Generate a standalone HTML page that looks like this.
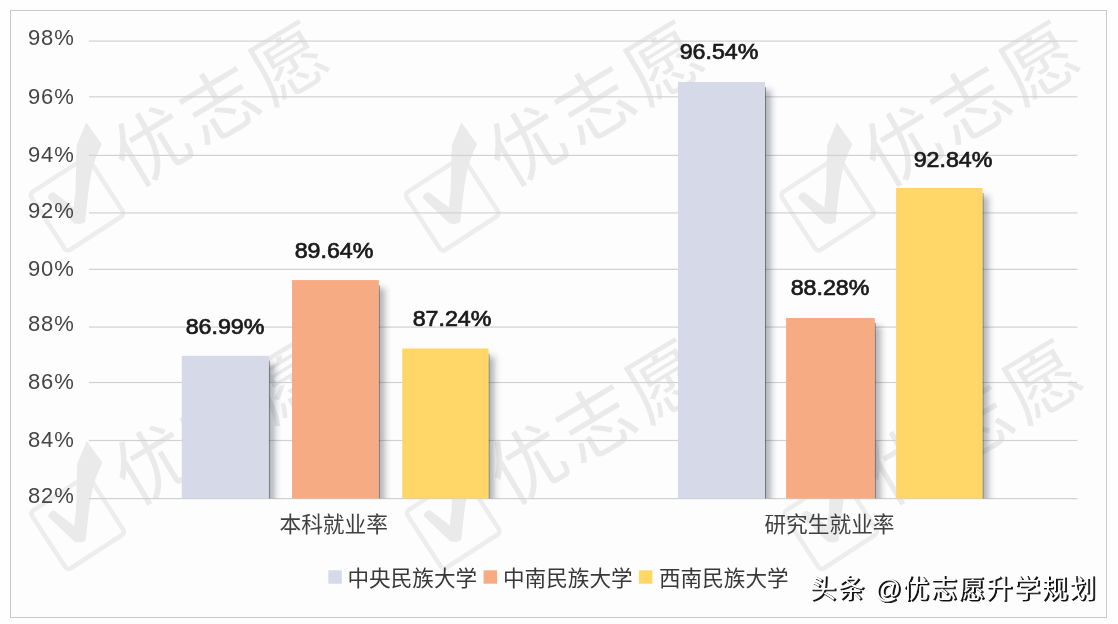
<!DOCTYPE html>
<html lang="zh"><head><meta charset="utf-8"><title>就业率</title>
<style>
html,body{margin:0;padding:0;}
body{width:1118px;height:624px;overflow:hidden;background:#fefefe;position:relative;
 font-family:"Liberation Sans",sans-serif;}
.frame{position:absolute;left:10px;top:10px;width:1095px;height:606px;border:1px solid #c8c8c8;background:#fdfdfd;}
.yl{position:absolute;left:28px;width:60px;font-size:22px;line-height:24px;color:#454545;letter-spacing:0.85px;white-space:nowrap;}
.dl{position:absolute;width:120px;text-align:center;font-weight:normal;font-size:21.6px;line-height:26px;color:#1a1a1a;-webkit-text-stroke:0.7px #1a1a1a;white-space:nowrap;transform:scaleX(1.075);}
svg{position:absolute;left:0;top:0;}
.sr{position:absolute;left:0;top:0;width:1px;height:1px;overflow:hidden;clip:rect(0 0 0 0);opacity:0;white-space:nowrap;}
</style></head>
<body>
<div class="frame"></div>
<svg width="1118" height="624" viewBox="0 0 1118 624">
<defs><g id="wm"><g transform="rotate(-35.5)"><rect transform="rotate(2.5) translate(1.2,2.2)" x="-34.5" y="-34.5" width="69" height="69" rx="4" ry="4" fill="none" stroke="#000" stroke-width="4.6" opacity="0.85"/><text transform="rotate(4.5,170,2)" x="58" y="31" font-size="75" letter-spacing="5" font-family="'Liberation Sans','Noto Sans CJK SC',sans-serif">优志愿</text></g><path d="M11.4-80.5 L27-58.9 C22-48 19-40 17.4-33.6 C15-22 13.5-12 12.6-2.4 L10.2 19.2 L5.4 21 L-0.6 20.4 L-27.1-4.8 C-27-8 -25-10.5 -21-10.8 L-1 4.5 C-0.5-3 0-8 0.6-9.6 L1.8-57.7 Z"/></g><filter id="sh" filterUnits="userSpaceOnUse" x="0" y="0" width="1118" height="624"><feGaussianBlur in="SourceAlpha" stdDeviation="0.35" result="b1"/><feOffset in="b1" dx="1.1" dy="4.5" result="o1"/><feFlood flood-color="#000" flood-opacity="0.36"/><feComposite in2="o1" operator="in" result="s1"/><feGaussianBlur in="SourceAlpha" stdDeviation="3.3" result="b2"/><feOffset in="b2" dx="5.5" dy="7.5" result="o2"/><feFlood flood-color="#2a3444" flood-opacity="0.36"/><feComposite in2="o2" operator="in" result="s2"/><feMerge><feMergeNode in="s2"/><feMergeNode in="s1"/><feMergeNode in="SourceGraphic"/></feMerge></filter><clipPath id="plot"><rect x="0" y="0" width="1118" height="498.6"/></clipPath></defs>
<g fill="#000" opacity="0.078" aria-hidden="true">
<use href="#wm" x="74.8" y="203"/>
<use href="#wm" x="450" y="203"/>
<use href="#wm" x="825.4" y="203"/>
<use href="#wm" x="75.4" y="521.5"/>
<use href="#wm" x="451" y="521"/>
<use href="#wm" x="828.5" y="521.5"/>
</g>
<g fill="#d1d1d1">
<rect x="89" y="40.50" width="988.5" height="1.2"/>
<rect x="89" y="96.20" width="988.5" height="1.2"/>
<rect x="89" y="154.80" width="988.5" height="1.2"/>
<rect x="89" y="212.30" width="988.5" height="1.2"/>
<rect x="89" y="268.70" width="988.5" height="1.2"/>
<rect x="89" y="326.50" width="988.5" height="1.2"/>
<rect x="89" y="381.90" width="988.5" height="1.2"/>
<rect x="89" y="439.90" width="988.5" height="1.2"/>
<rect x="89" y="498.00" width="988.5" height="1.2"/>
</g>
<g clip-path="url(#plot)">
<rect x="181.8" y="355.8" width="87.1" height="143.1" fill="#d6d9e7" filter="url(#sh)"/>
<rect x="292" y="280.1" width="86.8" height="218.8" fill="#f6ab83" filter="url(#sh)"/>
<rect x="402.2" y="348.5" width="86.3" height="150.4" fill="#ffd767" filter="url(#sh)"/>
<rect x="678" y="82.05" width="87" height="416.85" fill="#d6d9e7" filter="url(#sh)"/>
<rect x="786.1" y="318" width="88.7" height="180.9" fill="#f6ab83" filter="url(#sh)"/>
<rect x="896.1" y="188" width="86.4" height="310.9" fill="#ffd767" filter="url(#sh)"/>
</g>
<text x="333.7" y="532" text-anchor="middle" font-size="21.7" fill="#404040" font-family="'Liberation Sans','Noto Sans CJK SC',sans-serif">本科就业率</text>
<text x="829.5" y="532" text-anchor="middle" font-size="21.7" fill="#404040" font-family="'Liberation Sans','Noto Sans CJK SC',sans-serif">研究生就业率</text>
<rect x="328.3" y="570.3" width="13.5" height="13.4" fill="#d6d9e7"/>
<text x="347.5" y="586" font-size="21.6" fill="#383838" font-family="'Liberation Sans','Noto Sans CJK SC',sans-serif">中央民族大学</text>
<rect x="483.6" y="570.3" width="13.5" height="13.4" fill="#f6ab83"/>
<text x="503" y="586" font-size="21.6" fill="#383838" font-family="'Liberation Sans','Noto Sans CJK SC',sans-serif">中南民族大学</text>
<rect x="638.9" y="570.3" width="13.5" height="13.4" fill="#ffd767"/>
<text x="659" y="586" font-size="21.6" fill="#383838" font-family="'Liberation Sans','Noto Sans CJK SC',sans-serif">西南民族大学</text>
<g aria-label="头条 @优志愿升学规划"><title>头条 @优志愿升学规划</title><text transform="translate(1.1,1.1)" x="810.5" y="598" font-size="26" textLength="285.5" lengthAdjust="spacing" fill="#111" stroke="#111" stroke-width="0.85" stroke-linejoin="round" font-family="'Liberation Sans','Noto Sans CJK SC',sans-serif">头条 @优志愿升学规划</text><text transform="translate(-0.4,-0.4)" x="810.5" y="598" font-size="26" textLength="285.5" lengthAdjust="spacing" fill="#fff" font-family="'Liberation Sans','Noto Sans CJK SC',sans-serif">头条 @优志愿升学规划</text></g>
</svg>
<div class="yl" style="top:26.4px">98%</div>
<div class="yl" style="top:84.8px">96%</div>
<div class="yl" style="top:142.8px">94%</div>
<div class="yl" style="top:198.8px">92%</div>
<div class="yl" style="top:256.5px">90%</div>
<div class="yl" style="top:312.2px">88%</div>
<div class="yl" style="top:369.9px">86%</div>
<div class="yl" style="top:428.3px">84%</div>
<div class="yl" style="top:484.2px">82%</div>
<div class="dl" style="left:165.3px;top:313.9px">86.99%</div>
<div class="dl" style="left:273.7px;top:237.7px">89.64%</div>
<div class="dl" style="left:392.4px;top:305.5px">87.24%</div>
<div class="dl" style="left:658.6px;top:39.1px">96.54%</div>
<div class="dl" style="left:769.5px;top:275.1px">88.28%</div>
<div class="dl" style="left:892.7px;top:147.3px">92.84%</div>
<div class="sr">本科就业率 研究生就业率 中央民族大学 中南民族大学 西南民族大学 头条 @优志愿升学规划</div>
</body></html>
